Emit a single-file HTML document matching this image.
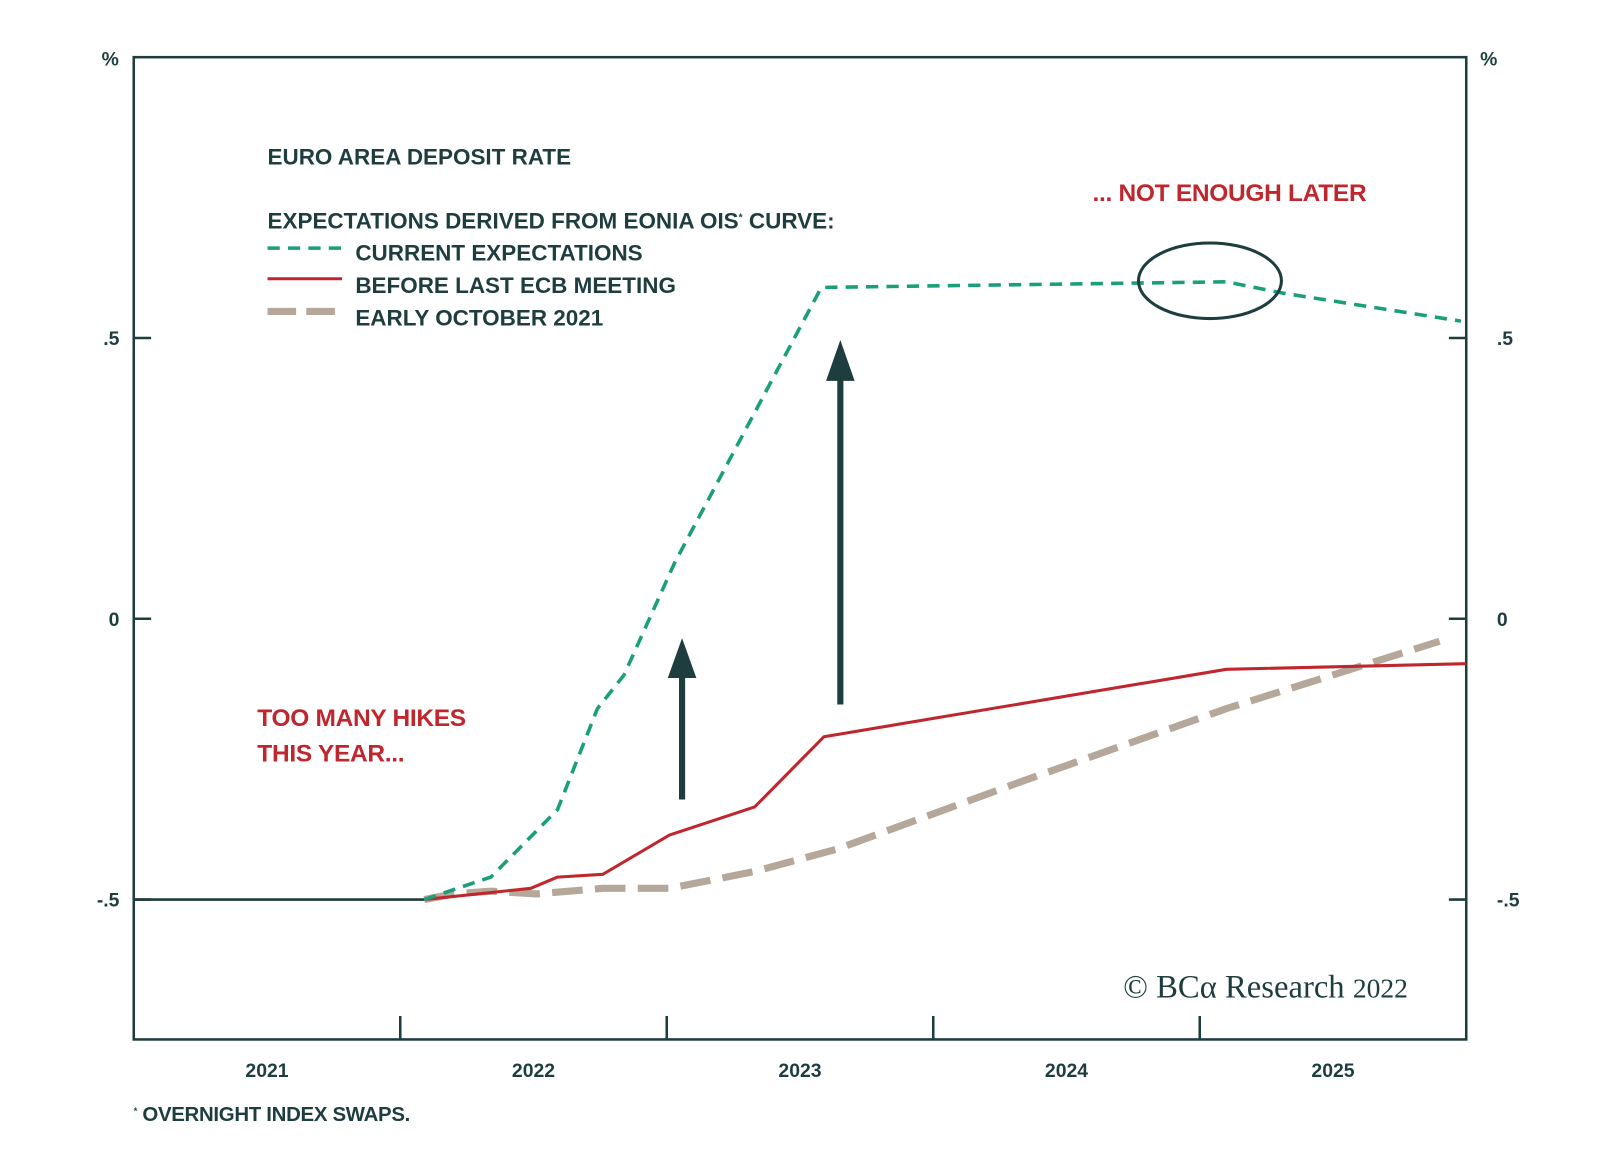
<!DOCTYPE html>
<html><head><meta charset="utf-8"><style>
body{margin:0;background:#fff;}
svg{display:block;font-family:"Liberation Sans",sans-serif;}
.t{font-size:22px;font-weight:bold;fill:#1e3d3f;letter-spacing:0px;}
.r{font-size:24px;font-weight:bold;fill:#c0262d;letter-spacing:-0.3px;}
.ax{font-size:19px;font-weight:bold;fill:#1e3d3f;}
</style></head><body>
<svg id="c" width="1600" height="1163" viewBox="0 0 1567 1139">
<rect x="131" y="56" width="1305" height="962" fill="none" stroke="#1e3d3f" stroke-width="2.5"/>
<g>
<text class="t" x="262" y="161">EURO AREA DEPOSIT RATE</text>
<text class="t" x="262" y="224">EXPECTATIONS DERIVED FROM EONIA OIS<tspan font-size="10" dy="-8">*</tspan><tspan dy="8"> CURVE:</tspan></text>
<line x1="262" y1="243" x2="335" y2="243" stroke="#1a9f7a" stroke-width="3.5" stroke-dasharray="12,8"/>
<text class="t" x="348" y="255">CURRENT EXPECTATIONS</text>
<line x1="262" y1="273" x2="335" y2="273" stroke="#c0262d" stroke-width="3"/>
<text class="t" x="348" y="287">BEFORE LAST ECB MEETING</text>
<line x1="262" y1="305" x2="335" y2="305" stroke="#b5a79a" stroke-width="7" stroke-dasharray="28,10"/>
<text class="t" x="348" y="319">EARLY OCTOBER 2021</text>
</g>
<text class="r" x="1070" y="197">... NOT ENOUGH LATER</text>
<text class="r" x="252" y="711">TOO MANY HIKES</text>
<text class="r" x="252" y="746">THIS YEAR...</text>
<text x="1100" y="977" font-family="Liberation Serif,serif" font-size="32" fill="#1e3d3f">© BCα Research <tspan font-size="27">2022</tspan></text>
<text x="131" y="1098" font-size="20" font-weight="bold" fill="#1e3d3f" letter-spacing="-0.3"><tspan font-size="9" dy="-7">*</tspan><tspan dy="7"> OVERNIGHT INDEX SWAPS.</tspan></text>
<g id="axes"></g><g id="series"></g>
<g>
<line x1="668" y1="783" x2="668" y2="655" stroke="#1e3d3f" stroke-width="6"/>
<polygon points="668,625 654,664 682,664" fill="#1e3d3f"/></g>
<g>
<line x1="823" y1="690" x2="823" y2="365" stroke="#1e3d3f" stroke-width="6"/>
<polygon points="823,333 809,373 837,373" fill="#1e3d3f"/></g>
<ellipse cx="1185" cy="275" rx="70" ry="37" fill="none" stroke="#1e3d3f" stroke-width="3"/>
</svg>
<script>
const yTicks=[0.5,0,-0.5];
const yTickLabels=['.5','0','-.5'];
const xYears=[2021,2022,2023,2024,2025];
const depositX=[2021,2022.09];
const depositY=[-0.5,-0.5];
const currentX=[2022.09,2022.34,2022.59,2022.74,2022.84,2023.03,2023.58,2025.1,2025.31,2025.98];
const currentY=[-0.5,-0.46,-0.34,-0.16,-0.1,0.1,0.59,0.6,0.58,0.53];
const beforeX=[2022.09,2022.49,2022.59,2022.76,2023.01,2023.33,2023.59,2025.1,2026];
const beforeY=[-0.5,-0.48,-0.46,-0.455,-0.385,-0.335,-0.21,-0.09,-0.08];
const octX=[2022.09,2022.2,2022.34,2022.51,2022.76,2023.01,2023.33,2023.64,2024.33,2025.1,2025.9];
const octY=[-0.5,-0.49,-0.485,-0.49,-0.48,-0.48,-0.45,-0.41,-0.29,-0.16,-0.04];
const X=v=>131+(v-2021)*261;
const Y=v=>606-v*550;
const NS='http://www.w3.org/2000/svg';
function mk(tag,attrs,parent){const e=document.createElementNS(NS,tag);for(const k in attrs)e.setAttribute(k,attrs[k]);parent.appendChild(e);return e;}
const ax=document.getElementById('axes');
yTicks.forEach((t,i)=>{
 const y=Y(t);
 const l1=mk('line',{x1:131,x2:148,y1:y,y2:y,stroke:'#1e3d3f','stroke-width':2.5},ax);
 
 
 const l2=mk('line',{x1:1419,x2:1436,y1:y,y2:y,stroke:'#1e3d3f','stroke-width':2.5},ax);
 
 
 const a=mk('text',{x:117,y:y+7,'text-anchor':'end',class:'ax'},ax);a.textContent=yTickLabels[i];
 
 
 const b=mk('text',{x:1466,y:y+7,class:'ax'},ax);b.textContent=yTickLabels[i];
 
 
});
[[108,'left'],[1458,'right']].forEach(p=>{const t=mk('text',{x:p[0],y:64,'text-anchor':'middle',class:'ax'},ax);t.textContent='%';
 
 });
xYears.forEach((yr,i)=>{
 if(i>0){const l=mk('line',{x1:X(yr),x2:X(yr),y1:995,y2:1018,stroke:'#1e3d3f','stroke-width':2.5},ax);
 
 }
 const t=mk('text',{x:X(yr+0.5),y:1055,'text-anchor':'middle',class:'ax'},ax);t.textContent=yr;
 
 
});
const sg=document.getElementById('series');
function line(xs,ys,attrs,name){
 const d=xs.map((x,i)=>(i?'L':'M')+X(x).toFixed(1)+','+Y(ys[i]).toFixed(1)).join(' ');
 const p=mk('path',Object.assign({d:d,fill:'none','stroke-linejoin':'round'},attrs),sg);
 
 
}
line(depositX,depositY,{stroke:'#1e3d3f','stroke-width':2.5},'series-deposit-rate');
line(octX,octY,{stroke:'#b5a79a','stroke-width':7,'stroke-dasharray':'30,12'},'series-early-october-2021');
line(beforeX,beforeY,{stroke:'#c0262d','stroke-width':3},'series-before-last-ecb-meeting');
line(currentX,currentY,{stroke:'#1a9f7a','stroke-width':3.5,'stroke-dasharray':'12,8'},'series-current-expectations');
</script>
</body></html>
